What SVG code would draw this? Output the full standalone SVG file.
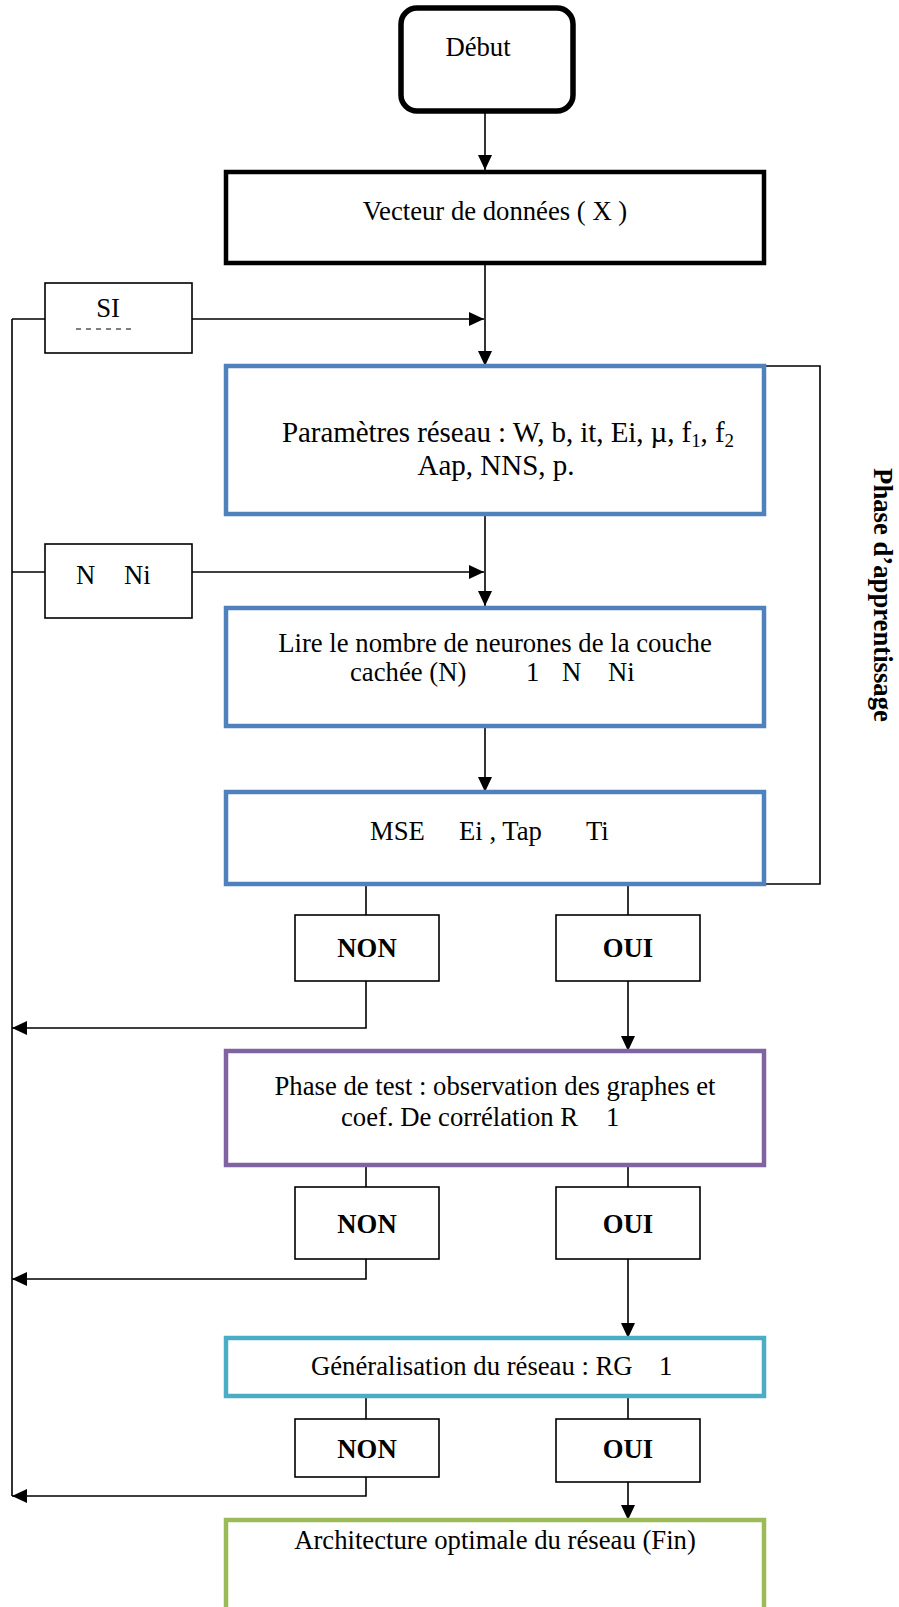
<svg xmlns="http://www.w3.org/2000/svg" width="899" height="1607" viewBox="0 0 899 1607">
<style>
text{font-family:"Liberation Serif","Times New Roman",serif;font-size:26.7px;fill:#000}
.b{font-weight:bold}
.c{text-anchor:middle}
.p{font-size:29px}
.ln{fill:none;stroke:#000;stroke-width:1.6}
.sm{fill:#fff;stroke:#000;stroke-width:1.6}
.big{fill:#fff;stroke-width:4.5}
</style>
<defs>
<marker id="ar" markerUnits="userSpaceOnUse" markerWidth="16" markerHeight="16" viewBox="0 0 16 16" refX="15" refY="8" orient="auto">
<path d="M0,1 L15,8 L0,15 Z" fill="#000"/>
</marker>
</defs>
<g id="connectors">
<line class="ln" x1="485" y1="111" x2="485" y2="170" marker-end="url(#ar)"/>
<line class="ln" x1="485" y1="263" x2="485" y2="366" marker-end="url(#ar)"/>
<line class="ln" x1="12" y1="319" x2="45" y2="319"/>
<line class="ln" x1="192" y1="319" x2="484" y2="319" marker-end="url(#ar)"/>
<line class="ln" x1="12" y1="319" x2="12" y2="1496"/>
<polyline class="ln" points="764,366 820,366 820,884 764,884"/>
<line class="ln" x1="485" y1="514" x2="485" y2="606" marker-end="url(#ar)"/>
<line class="ln" x1="12" y1="572" x2="45" y2="572"/>
<line class="ln" x1="192" y1="572" x2="484" y2="572" marker-end="url(#ar)"/>
<line class="ln" x1="485" y1="726" x2="485" y2="792" marker-end="url(#ar)"/>
<line class="ln" x1="366" y1="884" x2="366" y2="915"/>
<line class="ln" x1="628" y1="884" x2="628" y2="915"/>
<polyline class="ln" points="366,981 366,1028 12,1028" marker-end="url(#ar)"/>
<line class="ln" x1="628" y1="981" x2="628" y2="1051" marker-end="url(#ar)"/>
<line class="ln" x1="366" y1="1165" x2="366" y2="1187"/>
<line class="ln" x1="628" y1="1165" x2="628" y2="1187"/>
<polyline class="ln" points="366,1259 366,1279 12,1279" marker-end="url(#ar)"/>
<line class="ln" x1="628" y1="1259" x2="628" y2="1338" marker-end="url(#ar)"/>
<line class="ln" x1="366" y1="1396" x2="366" y2="1419"/>
<line class="ln" x1="628" y1="1396" x2="628" y2="1419"/>
<polyline class="ln" points="366,1477 366,1496 12,1496" marker-end="url(#ar)"/>
<line class="ln" x1="628" y1="1482" x2="628" y2="1520" marker-end="url(#ar)"/>
</g>
<g id="debut">
<rect x="401" y="8" width="172" height="103" rx="16" fill="#fff" stroke="#000" stroke-width="5.5"/>
<text x="478" y="56" class="c">Début</text>
</g>
<g id="vecteur">
<rect x="226" y="172" width="538" height="91" class="big" stroke="#000"/>
<text x="495" y="220" class="c">Vecteur de données ( X )</text>
</g>
<g id="si">
<rect x="45" y="283" width="147" height="70" class="sm"/>
<text x="108" y="317" class="c">SI</text>
<line x1="76" y1="329" x2="134" y2="329" stroke="#000" stroke-width="1" stroke-dasharray="5,5"/>
</g>
<g id="params">
<rect x="226" y="366" width="538" height="148" class="big" stroke="#4F81BD"/>
<text x="282" y="442" class="p" textLength="452" lengthAdjust="spacing">Paramètres réseau : W, b, it, Ei, µ, f<tspan font-size="19" dy="5">1</tspan><tspan dy="-5">, f</tspan><tspan font-size="19" dy="5">2</tspan></text>
<text x="496" y="475" class="c p">Aap, NNS, p.</text>
</g>
<g id="nni">
<rect x="45" y="544" width="147" height="74" class="sm"/>
<text x="76" y="584">N</text>
<text x="124" y="584">Ni</text>
</g>
<g id="lire">
<rect x="226" y="608" width="538" height="118" class="big" stroke="#4F81BD"/>
<text x="495" y="652" class="c">Lire le nombre de neurones de la couche</text>
<text x="350" y="681">cachée (N)</text>
<text x="526" y="681">1</text>
<text x="562" y="681">N</text>
<text x="608" y="681">Ni</text>
</g>
<g id="mse">
<rect x="226" y="792" width="538" height="92" class="big" stroke="#4F81BD"/>
<text x="370" y="840">MSE</text>
<text x="459" y="840">Ei , Tap</text>
<text x="586" y="840">Ti</text>
</g>
<g id="non1">
<rect x="295" y="915" width="144" height="66" class="sm"/>
<text x="367" y="957" class="c b">NON</text>
</g>
<g id="oui1">
<rect x="556" y="915" width="144" height="66" class="sm"/>
<text x="628" y="957" class="c b">OUI</text>
</g>
<g id="test">
<rect x="226" y="1051" width="538" height="114" class="big" stroke="#8064A2"/>
<text x="495" y="1095" class="c">Phase de test : observation des graphes et</text>
<text x="341" y="1126">coef. De corrélation R</text>
<text x="606" y="1126">1</text>
</g>
<g id="non2">
<rect x="295" y="1187" width="144" height="72" class="sm"/>
<text x="367" y="1233" class="c b">NON</text>
</g>
<g id="oui2">
<rect x="556" y="1187" width="144" height="72" class="sm"/>
<text x="628" y="1233" class="c b">OUI</text>
</g>
<g id="general">
<rect x="226" y="1338" width="538" height="58" class="big" stroke="#4BACC6"/>
<text x="311" y="1375">Généralisation du réseau : RG</text>
<text x="659" y="1375">1</text>
</g>
<g id="non3">
<rect x="295" y="1419" width="144" height="58" class="sm"/>
<text x="367" y="1458" class="c b">NON</text>
</g>
<g id="oui3">
<rect x="556" y="1419" width="144" height="63" class="sm"/>
<text x="628" y="1458" class="c b">OUI</text>
</g>
<g id="fin">
<rect x="226" y="1520" width="538" height="110" class="big" stroke="#9BBB59"/>
<text x="495" y="1549" class="c">Architecture optimale du réseau (Fin)</text>
</g>
<g id="label">
<text class="b c" transform="translate(874,595) rotate(90)">Phase d’apprentissage</text>
</g>
</svg>
